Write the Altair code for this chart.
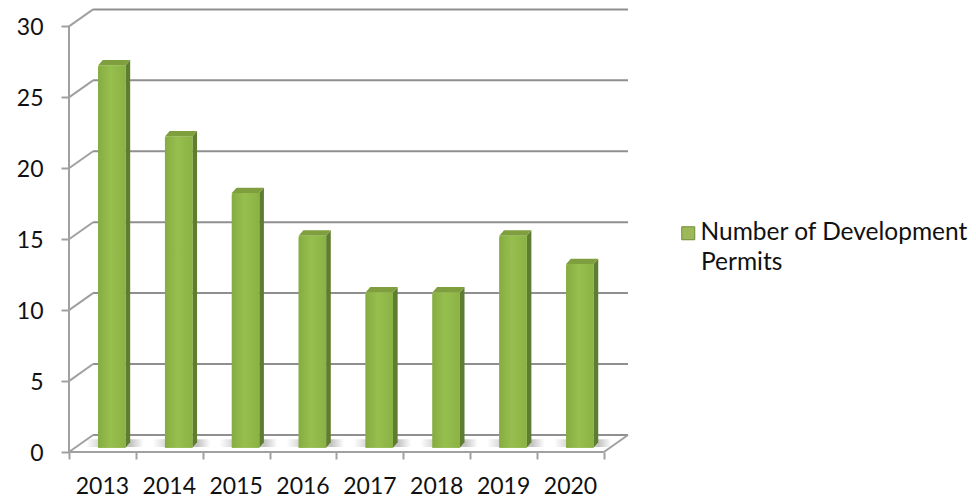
import altair as alt
import pandas as pd

years = ["2013", "2014", "2015", "2016", "2017", "2018", "2019", "2020"]
permits = [27, 22, 18, 15, 11, 11, 15, 13]
y_ticks = [0, 5, 10, 15, 20, 25, 30]
x_ticks = [0, 1, 2, 3, 4, 5, 6, 7, 8]
series = "Number of Development"
series_line2 = "Permits"

FONT = "Lato"
GRID = "#8f8f8f"
AXIS = "#a0a0a0"
DX, DV = 0.36, 1.2       # depth of the chart box, in axis units
BASE, TOP = 0.3, 0.25    # bars stand inside the floor
LEFT, W, BX, BV = 0.435, 0.41, 0.07, 0.38

X_SCALE = alt.Scale(domain=[0, 8.36], nice=False, zero=False)
Y_SCALE = alt.Scale(domain=[0, 31.3], nice=False, zero=False)
x_q = lambda f="x": alt.X(f"{f}:Q", scale=X_SCALE, title=None,
                          axis=alt.Axis(values=x_ticks, labelExpr="''", grid=False, domain=False,
                                        tickSize=7, tickColor=AXIS, tickWidth=2))
y_q = lambda f="y": alt.Y(f"{f}:Q", scale=Y_SCALE, title=None, stack=None,
                          axis=alt.Axis(values=y_ticks, grid=False, domain=False, tickSize=8,
                                        tickColor=AXIS, tickWidth=2, labelFont=FONT, labelFontSize=23,
                                        labelColor="#111111", labelPadding=18, labelOffset=1))

# frame --------------------------------------------------------------
grid_df = pd.DataFrame({"x": [DX] * len(y_ticks), "x2": [8 + DX] * len(y_ticks),
                        "y": [v + DV for v in y_ticks]})
grid = alt.Chart(grid_df).mark_rule(color=GRID, strokeWidth=2).encode(x=x_q(), x2="x2:Q", y=y_q())

diag_rows = []
for v in y_ticks:
    diag_rows += [{"k": v, "x": 0, "y": v}, {"k": v, "x": DX, "y": v + DV}]
diag_rows += [{"k": "r", "x": 8, "y": 0}, {"k": "r", "x": 8 + DX, "y": DV}]
diag = alt.Chart(pd.DataFrame(diag_rows)).mark_line(color=AXIS, strokeWidth=2).encode(
    x=x_q(), y=y_q(), detail="k:N", order="x:Q")

wall = alt.Chart(pd.DataFrame({"x": [0], "y": [0], "y2": [30]})).mark_rule(color=AXIS, strokeWidth=2).encode(
    x=x_q(), y=y_q(), y2="y2:Q")
floor = alt.Chart(pd.DataFrame({"x": [0], "x2": [8], "y": [0]})).mark_rule(color=AXIS, strokeWidth=2).encode(
    x=x_q(), x2="x2:Q", y=y_q())

# bars ---------------------------------------------------------------
rows, caps, sides, shadows = [], [], [], []
for i, (yr, v) in enumerate(zip(years, permits)):
    x0, x1 = i + LEFT, i + LEFT + W
    top = v + TOP
    rows.append({"year": yr, "x": x0, "x2": x1, "y": BASE, "y2": top, "s": series, "tx": i + 0.5})
    caps += [{"b": yr, "x": x0, "lo": top, "hi": top},
             {"b": yr, "x": x0 + BX, "lo": top, "hi": top + BV},
             {"b": yr, "x": x1, "lo": top, "hi": top + BV},
             {"b": yr, "x": x1 + BX, "lo": top + BV, "hi": top + BV}]
    sides += [{"b": yr, "x": x1, "lo": BASE, "hi": top},
              {"b": yr, "x": x1 + BX, "lo": BASE + BV, "hi": top + BV}]
    shadows += [{"b": yr, "x": x0 - 0.18, "lo": BASE + 0.05, "hi": BASE + 0.6},
                {"b": yr, "x": x1 + BX + 0.2, "lo": BASE + 0.05, "hi": BASE + 0.6}]
bars_df = pd.DataFrame(rows)

shade = alt.Gradient(gradient="linear", x1=0, x2=1, y1=0, y2=0,
                     stops=[alt.GradientStop(color="#ffffff", offset=0),
                            alt.GradientStop(color="#d2d2d2", offset=0.25),
                            alt.GradientStop(color="#c4c4c4", offset=0.78),
                            alt.GradientStop(color="#ffffff", offset=1)])
shadow = alt.Chart(pd.DataFrame(shadows)).mark_area(color=shade, orient="vertical").encode(
    x=x_q(), y=y_q("lo"), y2="hi:Q", detail="b:N")
side = alt.Chart(pd.DataFrame(sides)).mark_area(color="#5f7d30", orient="vertical").encode(
    x=x_q(), y=y_q("lo"), y2="hi:Q", detail="b:N")
cap = alt.Chart(pd.DataFrame(caps)).mark_area(color="#7f9f3f", orient="vertical").encode(
    x=x_q(), y=y_q("lo"), y2="hi:Q", detail="b:N")

base = alt.Chart(bars_df).mark_rect().encode(
    x=x_q(), x2="x2:Q", y=y_q(), y2="y2:Q",
    color=alt.Color("s:N", title=None,
                    scale=alt.Scale(range=["#9db858"]),
                    legend=alt.Legend(orient="none", legendX=607, legendY=213,
                                      symbolType="square", symbolSize=169, symbolStrokeColor="#6f8a38",
                                      symbolStrokeWidth=1, labelFont=FONT, labelFontSize=24.5,
                                      labelColor="#111111", labelLimit=320, labelOffset=0)))
grad = alt.Gradient(gradient="linear", x1=0, x2=1, y1=0, y2=0,
                    stops=[alt.GradientStop(color="#86ac41", offset=0),
                           alt.GradientStop(color="#96bf4e", offset=0.45),
                           alt.GradientStop(color="#8ab345", offset=1)])
front = alt.Chart(bars_df).mark_rect(color=grad, cornerRadiusTopLeft=3, cornerRadiusTopRight=1).encode(
    x=x_q(), x2="x2:Q", y=y_q(), y2="y2:Q")

labels = alt.Chart(pd.DataFrame({"year": years, "x": [r["tx"] for r in rows], "y": [0] * 8})).mark_text(
    font=FONT, fontSize=23, color="#111111", dy=35).encode(x=x_q(), y=y_q(), text="year:N")

legend_line2 = alt.Chart(pd.DataFrame({"t": [series_line2]})).mark_text(
    font=FONT, fontSize=24.5, color="#111111", align="left", baseline="middle").encode(
    x=alt.value(632), y=alt.value(255), text="t:N")

chart = alt.layer(shadow, grid, diag, floor, wall, side, cap, base, front, labels, legend_line2).properties(
    width=559, height=444,
    background="white",
    autosize=alt.AutoSizeParams(type="none"),
    padding={"left": 61, "top": 0, "right": 340, "bottom": 48},
).configure_view(stroke=None)

chart.save("out.html", embed_options={"renderer": "svg", "actions": False})
